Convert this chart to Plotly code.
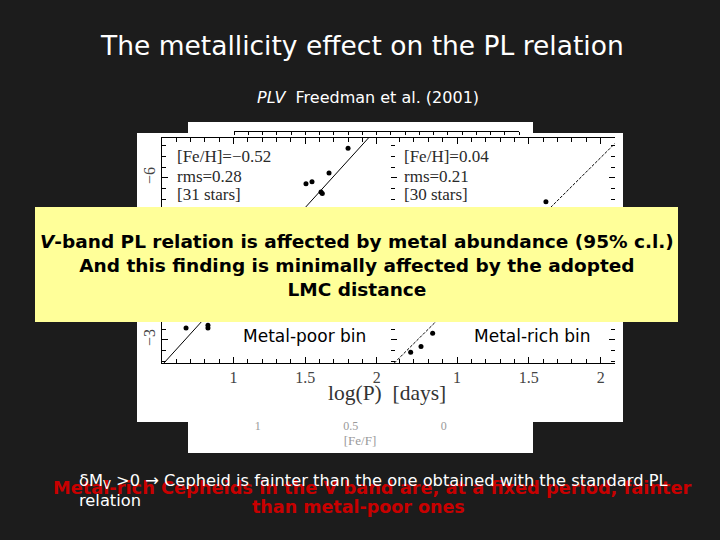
import plotly.graph_objects as go

W, H = 720, 540

# ---------------- data ----------------
poor_logp = [1.80, 1.667, 1.548, 1.506, 1.611, 1.620, 0.668, 0.821, 0.821]
poor_mag = [-6.55, -6.09, -5.93, -5.89, -5.74, -5.71, -3.22, -3.27, -3.22]
rich_logp = [1.619, 0.830, 0.749, 0.677]
rich_mag = [-5.56, -3.12, -2.875, -2.77]
fit_poor_logp = [0.5, 2.1]
fit_poor_mag = [-2.53, -7.20]
fit_rich_logp = [0.54, 2.1]
fit_rich_mag = [-2.51, -6.64]
logp_ticks = [1, 1.5, 2]
mag_ticks = [-6, -5, -4, -3]
fef_ticks = [1, 0.5, 0]
poor_info = ["[Fe/H]=\u22120.52", "rms=0.28", "[31 stars]"]
rich_info = ["[Fe/H]=0.04", "rms=0.21", "[30 stars]"]
info_mag = [-6.39, -6.02, -5.69]

BG = "#1c1c1c"
COMIC = "DejaVu Sans"
SERIF = "Liberation Serif"


def fx(px):
    return px / W


def fy(py):
    return 1 - py / H


fig = go.Figure()
fig.add_trace(go.Scatter(x=fit_poor_logp, y=fit_poor_mag, mode="lines",
                         line=dict(color="black", width=1), xaxis="x", yaxis="y",
                         showlegend=False, hoverinfo="skip"))
fig.add_trace(go.Scatter(x=poor_logp, y=poor_mag, mode="markers",
                         marker=dict(color="black", size=5), xaxis="x", yaxis="y",
                         showlegend=False))
fig.add_trace(go.Scatter(x=fit_rich_logp, y=fit_rich_mag, mode="lines",
                         line=dict(color="black", width=1, dash="3px,1.5px"),
                         xaxis="x2", yaxis="y2", showlegend=False, hoverinfo="skip"))
fig.add_trace(go.Scatter(x=rich_logp, y=rich_mag, mode="markers",
                         marker=dict(color="black", size=5), xaxis="x2", yaxis="y2",
                         showlegend=False))
# empty traces to carry the cut-off neighbour axes of the scanned figure
fig.add_trace(go.Scatter(x=[], y=[], xaxis="x3", yaxis="y", showlegend=False))
fig.add_trace(go.Scatter(x=[], y=[], xaxis="x4", yaxis="y", showlegend=False))

ydom = [fy(363), fy(138)]
tickfont = dict(family=SERIF, size=16, color="#444")
xcommon = dict(tickvals=logp_ticks, ticks="inside", ticklen=6, tickcolor="black",
               showline=True, linecolor="black", linewidth=1, mirror="ticks",
               showgrid=False, zeroline=False, tickfont=tickfont,
               minor=dict(dtick=0.1, tick0=0, ticks="inside", ticklen=4,
                          tickcolor="black", showgrid=False))
ycommon = dict(ticks="inside", ticklen=6, tickcolor="black", showgrid=False,
               zeroline=False, minor=dict(dtick=0.2, tick0=0, ticks="inside",
                                          ticklen=4, tickcolor="black",
                                          showgrid=False))

fig.update_layout(
    width=W, height=H, autosize=False,
    margin=dict(l=0, r=0, t=0, b=0),
    paper_bgcolor=BG, plot_bgcolor="rgba(0,0,0,0)",
    showlegend=False,
    xaxis=dict(domain=[fx(162), fx(391)], anchor="y", range=[0.5, 2.1], **xcommon),
    xaxis2=dict(domain=[fx(391), fx(615)], anchor="y2", range=[0.54, 2.1], **xcommon),
    xaxis3=dict(domain=[fx(234), fx(519)], anchor="free", position=fy(131),
                range=[0, 20], dtick=1, ticks="outside", ticklen=3,
                tickcolor="black", showline=True, linecolor="black",
                showticklabels=False, showgrid=False, zeroline=False),
    xaxis4=dict(domain=[fx(187), fx(533)], anchor="free", position=fy(417),
                range=[1.38, -0.48], tickvals=fef_ticks, ticks="",
                showline=False, showgrid=False, zeroline=False,
                tickfont=dict(family=SERIF, size=12, color="#9a9a9a"),
                title=dict(text="[Fe/F]", font=dict(family=SERIF, size=13,
                                                    color="#9a9a9a"),
                           standoff=2)),
    yaxis=dict(domain=ydom, anchor="x", range=[-2.57, -6.74], tickvals=mag_ticks,
               tickangle=-90, showline=True, linecolor="black", mirror=False,
               tickfont=tickfont, **ycommon),
    yaxis2=dict(domain=ydom, anchor="x2", range=[-2.57, -6.74], tickvals=mag_ticks,
                showticklabels=False, showline=False, mirror="ticks", **ycommon),
)

shapes = [
    # white scanned figure
    dict(type="rect", xref="paper", yref="paper", x0=fx(137), x1=fx(623),
         y0=fy(422), y1=fy(133), fillcolor="white", line=dict(width=0), layer="below"),
    dict(type="rect", xref="paper", yref="paper", x0=fx(188), x1=fx(533),
         y0=fy(453), y1=fy(122), fillcolor="white", line=dict(width=0), layer="below"),
    # yellow call-out box
    dict(type="rect", xref="paper", yref="paper", x0=fx(35), x1=fx(678),
         y0=fy(322), y1=fy(207), fillcolor="#ffff99", line=dict(width=0), layer="above"),
]

ann = []
ann.append(dict(text="The metallicity effect on the PL relation", x=fx(362), y=fy(46),
                font=dict(family=COMIC, size=26.5, color="white")))
ann.append(dict(text="<i>PLV</i>  Freedman et al. (2001)", x=fx(368), y=fy(98),
                font=dict(family=COMIC, size=16, color="white")))
for txt, m in zip(poor_info, info_mag):
    ann.append(dict(text=txt, x=0.59, y=m, xref="x", yref="y", xanchor="left",
                    font=dict(family=SERIF, size=17, color="#2a2a2a")))
for txt, m in zip(rich_info, info_mag):
    ann.append(dict(text=txt, x=0.617, y=m, xref="x2", yref="y2", xanchor="left",
                    font=dict(family=SERIF, size=17, color="#2a2a2a")))
ann.append(dict(text="Metal-poor bin", x=fx(304), y=fy(336),
                font=dict(family=COMIC, size=17, color="black")))
ann.append(dict(text="Metal-rich bin", x=fx(532), y=fy(336),
                font=dict(family=COMIC, size=17, color="black")))
ann.append(dict(text="log(P)  [days]", x=fx(387), y=fy(393),
                font=dict(family=SERIF, size=21.5, color="#333")))
ann.append(dict(text="<b><i>V</i>-band PL relation is affected by metal abundance (95% c.l.)"
                     "<br>And this finding is minimally affected by the adopted"
                     "<br>LMC distance</b>",
                x=fx(357), y=fy(265), font=dict(family=COMIC, size=18.5, color="black")))
ann.append(dict(text="<b>Metal-rich Cepheids in the V band are, at a fixed period, fainter</b>",
                x=fx(372), y=fy(487), font=dict(family=COMIC, size=17.8, color="#c80000")))
ann.append(dict(text="<b>than metal-poor ones</b>", x=fx(358), y=fy(507),
                font=dict(family=COMIC, size=17.5, color="#c80000")))
ann.append(dict(text="\u03b4M<sub>V</sub> >0 \u2192 Cepheid is fainter than the one obtained with the standard PL",
                x=fx(77), y=fy(481), xanchor="left",
                font=dict(family=COMIC, size=16.3, color="white")))
ann.append(dict(text="relation", x=fx(77), y=fy(500), xanchor="left",
                font=dict(family=COMIC, size=16.3, color="white")))

for a in ann:
    a.setdefault("xref", "paper")
    a.setdefault("yref", "paper")
    a.setdefault("xanchor", "center")
    a.setdefault("yanchor", "middle")
    a["showarrow"] = False

fig.update_layout(shapes=shapes, annotations=ann)
fig.write_html("out.html", config={"displayModeBar": False},
               post_script="document.body.style.margin='0px';")
